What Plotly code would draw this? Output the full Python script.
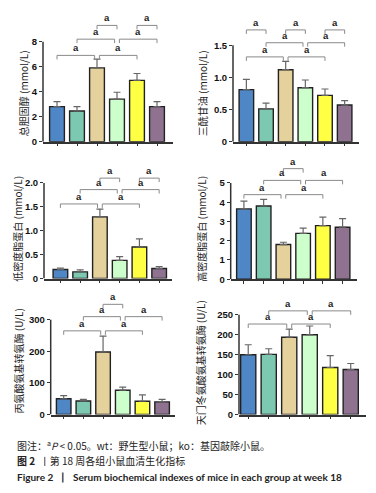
import plotly.graph_objects as go

W, H = 376, 493

groups = ["wt-1", "ko-1", "wt-2", "ko-2", "wt-3", "ko-3"]
colors = ["#4f86c6", "#7dc8b1", "#e5d19c", "#ccffcc", "#ffff44", "#8f7290"]

# Panel data (means and upper SEM)
tc_mean = [2.8, 2.45, 5.9, 3.4, 4.9, 2.8]
tc_err = [0.4, 0.35, 0.7, 0.55, 0.55, 0.4]
tg_mean = [0.81, 0.51, 1.12, 0.84, 0.72, 0.57]
tg_err = [0.16, 0.09, 0.13, 0.12, 0.10, 0.07]
ldl_mean = [0.19, 0.14, 1.29, 0.38, 0.66, 0.21]
ldl_err = [0.03, 0.04, 0.16, 0.08, 0.17, 0.04]
hdl_mean = [3.65, 3.8, 1.8, 2.38, 2.78, 2.7]
hdl_err = [0.4, 0.35, 0.12, 0.27, 0.44, 0.45]
alt_mean = [50, 43, 198, 77, 42, 40]
alt_err = [10, 5, 50, 10, 20, 8]
ast_mean = [150, 151, 194, 200, 118, 113]
ast_err = [25, 14, 20, 22, 30, 15]

titles = ["总胆固醇 (mmol/L)", "三酰甘油 (mmol/L)", "低密度脂蛋白 (mmol/L)",
          "高密度脂蛋白 (mmol/L)", "丙氨酸氨基转氨酶 (U/L)", "天门冬氨酸氨基转氨酶 (U/L)"]
tick_vals = [[0, 2, 4, 6, 8], [0, 0.5, 1.0, 1.5], [0, 0.5, 1.0, 1.5, 2.0],
             [0, 1, 2, 3, 4, 5], [0, 100, 200, 300], [0, 50, 100, 150, 200, 250]]
tick_text = [["0", "2", "4", "6", "8"], ["0", "0.5", "1.0", "1.5"],
             ["0", "0.5", "1.0", "1.5", "2.0"], ["0", "1", "2", "3", "4", "5"],
             ["0", "100", "200", "300"], ["0", "50", "100", "150", "200", "250"]]

# significance brackets: (group i, group j, level)
brackets = [
    [(0, 2, 1), (2, 4, 1), (1, 3, 2), (3, 5, 2), (2, 3, 3), (4, 5, 3)],
    [(0, 2, 1), (2, 4, 1), (1, 3, 2), (3, 5, 2), (0, 1, 3), (2, 3, 3), (4, 5, 3)],
    [(0, 2, 1), (2, 4, 1), (1, 3, 2), (3, 5, 2), (2, 3, 3), (4, 5, 3)],
    [(0, 2, 1), (2, 4, 1), (1, 3, 2), (3, 5, 2), (2, 3, 3)],
    [(0, 2, 1), (2, 4, 1), (1, 3, 2), (3, 5, 2), (2, 3, 3)],
    [(0, 2, 1), (2, 4, 1), (1, 3, 2), (3, 5, 2)],
]

means = [tc_mean, tg_mean, ldl_mean, hdl_mean, alt_mean, ast_mean]
errs = [tc_err, tg_err, ldl_err, hdl_err, alt_err, ast_err]

# layout geometry in pixels: axis left, axis right, zero px, top-tick px, x range,
# bracket level heights (data units), title x/y px
geo = [
    dict(x0=35, x1=165, p0=135, pt=34, xr=[-0.7, 5.8], lv=[6.9, 8.2, 9.3], tx=15, ty=86),
    dict(x0=225, x1=351, p0=135, pt=37.7, xr=[-0.68, 5.73], lv=[1.32, 1.54, 1.74], tx=194, ty=86),
    dict(x0=36, x1=164, p0=273.3, pt=176.7, xr=[-0.83, 5.65], lv=[1.56, 1.86, 2.10], tx=10, ty=223),
    dict(x0=222.7, x1=349, p0=274, pt=176.7, xr=[-0.67, 5.73], lv=[4.39, 5.13, 5.74], tx=194, ty=223),
    dict(x0=42.7, x1=166.7, p0=410.7, pt=315, xr=[-0.66, 5.64], lv=[265, 310, 349], tx=10, ty=357),
    dict(x0=231, x1=357.7, p0=410.7, pt=310, xr=[-0.45, 5.73], lv=[227, 260, 290], tx=192, ty=358),
]

fig = go.Figure()
shapes = []
annos = []
AX = "#333333"
BR = "#8a8a8a"

for k in range(6):
    g = geo[k]
    top_tick = tick_vals[k][-1]
    scale = (g["p0"] - g["pt"]) / top_tick  # px per unit
    rtop = g["lv"][2] + 6 / scale
    ptop = g["p0"] - rtop * scale
    xa = "xaxis" if k == 0 else f"xaxis{k+1}"
    ya = "yaxis" if k == 0 else f"yaxis{k+1}"
    xr = "x" if k == 0 else f"x{k+1}"
    yr = "y" if k == 0 else f"y{k+1}"
    fig.add_trace(go.Bar(
        x=list(range(6)), y=means[k], xaxis=xr, yaxis=yr,
        marker=dict(color=colors, line=dict(color="#222", width=1.4)),
        width=0.74,
        error_y=dict(type="data", symmetric=False, array=errs[k],
                     arrayminus=[0] * 6, color="#666", thickness=1.2, width=3.5),
        showlegend=False, hoverinfo="skip"))
    fig.layout[xa] = dict(domain=[g["x0"] / W, g["x1"] / W], range=g["xr"],
                          anchor=yr, showgrid=False, zeroline=False,
                          showline=True, linecolor=AX, linewidth=1.5,
                          ticks="outside", ticklen=3, tickwidth=1, tickcolor=AX,
                          tickvals=list(range(6)), showticklabels=False)
    fig.layout[ya] = dict(domain=[1 - g["p0"] / H, 1 - ptop / H], range=[0, rtop],
                          anchor=xr, showgrid=False, zeroline=False, showline=False,
                          ticks="outside", ticklen=3, tickwidth=1.3, tickcolor=AX,
                          tickvals=tick_vals[k], ticktext=tick_text[k],
                          tickfont=dict(family="Liberation Sans", size=9.5,
                                        color="#111", weight="bold"))
    # y axis line only up to top tick
    shapes.append(dict(type="line", xref=f"{xr} domain", yref=yr, x0=0, x1=0,
                       y0=0, y1=top_tick, line=dict(color=AX, width=1.5)))
    # brackets
    dn = 4 / scale
    starts = {(lvl, i) for (i, j, lvl) in brackets[k]}
    ends = {(lvl, j) for (i, j, lvl) in brackets[k]}
    for (i, j, lvl) in brackets[k]:
        yb = g["lv"][lvl - 1]
        a = i + (0.12 if (lvl, i) in ends else 0)
        b = j - (0.12 if (lvl, j) in starts else 0)
        shapes.append(dict(type="path", xref=xr, yref=yr,
                           path=f"M {a} {yb - dn} L {a} {yb} L {b} {yb} L {b} {yb - dn}",
                           line=dict(color=BR, width=1)))
        annos.append(dict(x=(a + b) / 2, y=yb, xref=xr, yref=yr, text="a",
                          showarrow=False, yanchor="bottom", yshift=0,
                          font=dict(family="Liberation Sans", size=9.5, color="#222",
                                    weight="bold")))
    annos.append(dict(x=g["tx"] / W, y=1 - g["ty"] / H, xref="paper", yref="paper",
                      text=titles[k], textangle=-90, showarrow=False,
                      xanchor="center", yanchor="middle",
                      font=dict(family="Noto Sans CJK SC", size=10, color="#222")))

cap1 = "图注：<sup>a</sup><i>P</i> < 0.05。wt：野生型小鼠；ko：基因敲除小鼠。"
cap2 = "<b>图 2</b>  丨第 18 周各组小鼠血清生化指标"
cap3 = "<b>Figure 2  丨  Serum biochemical indexes of mice in each group at week 18</b>"
for txt, yy, fam, sz in [(cap1, 442.0, "Noto Sans CJK SC", 10),
                         (cap2, 456.8, "Noto Sans CJK SC", 10),
                         (cap3, 473.5, "Lato", 10)]:
    annos.append(dict(x=7 / W, y=1 - yy / H, xref="paper", yref="paper", text=txt,
                      showarrow=False, xanchor="left", yanchor="middle",
                      font=dict(family=fam, size=sz, color="#222")))

fig.update_layout(width=W, height=H, margin=dict(l=0, r=0, t=0, b=0),
                  paper_bgcolor="white", plot_bgcolor="white",
                  shapes=shapes, annotations=annos, bargap=0.26)
fig.write_html("out.html")
